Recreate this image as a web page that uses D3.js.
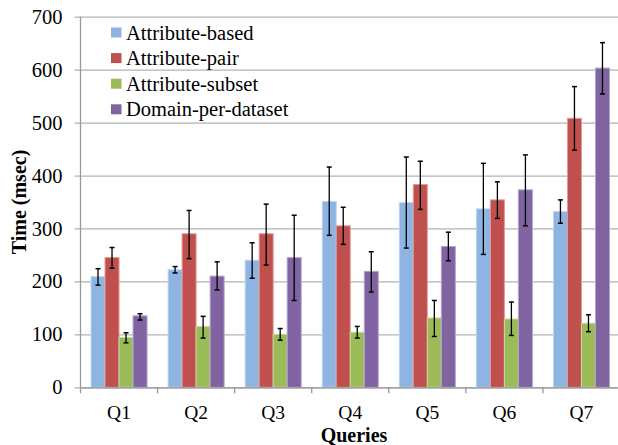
<!DOCTYPE html>
<html>
<head>
<meta charset="utf-8">
<script src="https://cdn.jsdelivr.net/npm/d3@7"></script>
<style>
  body { margin: 0; background: #fff; }
</style>
</head>
<body>
<script>
(function(){

  var queries = ['Q1', 'Q2', 'Q3', 'Q4', 'Q5', 'Q6', 'Q7']
  var seriesNames = ['Attribute-based', 'Attribute-pair', 'Attribute-subset', 'Domain-per-dataset']
  var colors = ['#8EB4E3', '#C0504D', '#9BBB59', '#8064A2']
  var borders = ['#c2d6f0', '#dc9c9a', '#c6d9a3', '#b5a5cc']

  // mean and error-bar ends
  var attrBased     = [209, 222, 240, 351, 349, 337, 332]
  var attrBasedHi   = [224, 228, 273, 416, 435, 423, 354]
  var attrBasedLo   = [193, 216, 206, 287, 263, 251, 310]
  var attrPair      = [245, 290, 290, 305, 383, 354, 508]
  var attrPairHi    = [264, 334, 346, 340, 427, 388, 568]
  var attrPairLo    = [225, 243, 231, 270, 336, 319, 448]
  var attrSubset    = [94, 115, 100, 104, 131, 129, 121]
  var attrSubsetHi  = [103, 134, 111, 115, 164, 161, 137]
  var attrSubsetLo  = [84, 93, 89, 93, 96, 98, 105]
  var domain        = [135, 210, 245, 219, 266, 373, 603]
  var domainHi      = [139, 237, 325, 256, 293, 439, 651]
  var domainLo      = [127, 184, 164, 180, 239, 305, 554]

  var yTicks = [0, 100, 200, 300, 400, 500, 600, 700]

  var values = [attrBased, attrPair, attrSubset, domain]
  var his = [attrBasedHi, attrPairHi, attrSubsetHi, domainHi]
  var los = [attrBasedLo, attrPairLo, attrSubsetLo, domainLo]

  var font = "'Liberation Serif', 'Times New Roman', Times, 'DejaVu Serif', serif"

  var width = 618, height = 445
  var margin = { top: 16.7, right: -2, bottom: 57.7, left: 80.5 }

  var svg = d3.select('body').append('svg')
      .attr('width', width)
      .attr('height', height)
      .style('font-family', font)

  var x = d3.scaleBand()
      .domain(queries)
      .range([margin.left, width - margin.right])

  var inner = d3.scaleBand()
      .domain(d3.range(seriesNames.length))
      .range([0, x.bandwidth()])
      .paddingOuter(0.75)

  var y = d3.scaleLinear()
      .domain([0, 700])
      .range([height - margin.bottom, margin.top])

  // gridlines + y ticks
  var yAxis = svg.append('g')
      .attr('transform', 'translate(' + margin.left + ',0)')
      .call(d3.axisLeft(y).tickValues(yTicks).tickSize(-(width - margin.left - margin.right)).tickSizeOuter(0).tickPadding(18))
  yAxis.attr('font-family', null)
  yAxis.select('.domain').remove()
  yAxis.selectAll('.tick line').attr('stroke', '#b3b3b3').attr('stroke-width', 1.3).attr('x1', -6)
  yAxis.selectAll('.tick text').attr('font-size', 20.5).attr('fill', '#000').style('font-family', font)

  svg.append('line')
      .attr('x1', margin.left).attr('x2', margin.left)
      .attr('y1', y(700)).attr('y2', y(0))
      .attr('stroke', '#999').attr('stroke-width', 1.3)

  var groups = svg.append('g').selectAll('g')
      .data(queries)
      .enter().append('g')
      .attr('transform', function(d){ return 'translate(' + x(d) + ',0)' })

  seriesNames.forEach(function(name, s){
    groups.append('rect')
        .attr('x', function(d, i){ return inner(s) })
        .attr('width', inner.bandwidth())
        .attr('y', function(d, i){ return y(values[s][i]) })
        .attr('height', function(d, i){ return y(0) - y(values[s][i]) })
        .attr('fill', colors[s])
        .attr('stroke', borders[s])
        .attr('stroke-width', 1)

    var cx = function(d, i){ return inner(s) + inner.bandwidth() / 2 }
    groups.append('line')
        .attr('x1', cx).attr('x2', cx)
        .attr('y1', function(d, i){ return y(his[s][i]) })
        .attr('y2', function(d, i){ return y(los[s][i]) })
        .attr('stroke', '#000').attr('stroke-width', 1.3)
    ;[his, los].forEach(function(arr){
      groups.append('line')
          .attr('x1', function(d, i){ return cx(d, i) - 2.5 })
          .attr('x2', function(d, i){ return cx(d, i) + 2.5 })
          .attr('y1', function(d, i){ return y(arr[s][i]) })
          .attr('y2', function(d, i){ return y(arr[s][i]) })
          .attr('stroke', '#000').attr('stroke-width', 1.5)
    })
  })

  // x axis
  var xAxis = svg.append('g')
      .attr('transform', 'translate(0,' + y(0) + ')')
      .call(d3.axisBottom(x).tickSize(0).tickPadding(18))
  xAxis.attr('font-family', null)
  xAxis.select('.domain').attr('stroke', '#999').attr('stroke-width', 1.3)
  xAxis.selectAll('.tick text').attr('font-size', 19.5).attr('fill', '#000').style('font-family', font)
  xAxis.selectAll('.sep')
      .data(queries)
      .enter().append('line')
      .attr('x1', function(d){ return x(d) }).attr('x2', function(d){ return x(d) })
      .attr('y1', 0).attr('y2', 6)
      .attr('stroke', '#999').attr('stroke-width', 1.3)

  svg.append('text')
      .attr('x', 354).attr('y', 442)
      .attr('text-anchor', 'middle')
      .attr('font-weight', 'bold')
      .attr('font-size', 20)
      .text('Queries')

  svg.append('text')
      .attr('transform', 'translate(25.5,' + ((y(0) + y(700)) / 2) + ') rotate(-90)')
      .attr('text-anchor', 'middle')
      .attr('font-weight', 'bold')
      .attr('font-size', 20)
      .text('Time (msec)')

  // legend
  var legend = svg.append('g')
      .attr('transform', 'translate(111,27.5)')
  var item = legend.selectAll('g')
      .data(seriesNames)
      .enter().append('g')
      .attr('transform', function(d, i){ return 'translate(0,' + (i * 25.6) + ')' })
  item.append('rect')
      .attr('width', 10.5).attr('height', 10)
      .attr('fill', function(d, i){ return colors[i] })
  item.append('text')
      .attr('x', 15).attr('y', 12)
      .attr('font-size', 20.5)
      .text(function(d){ return d })

})()
</script>
</body>
</html>
